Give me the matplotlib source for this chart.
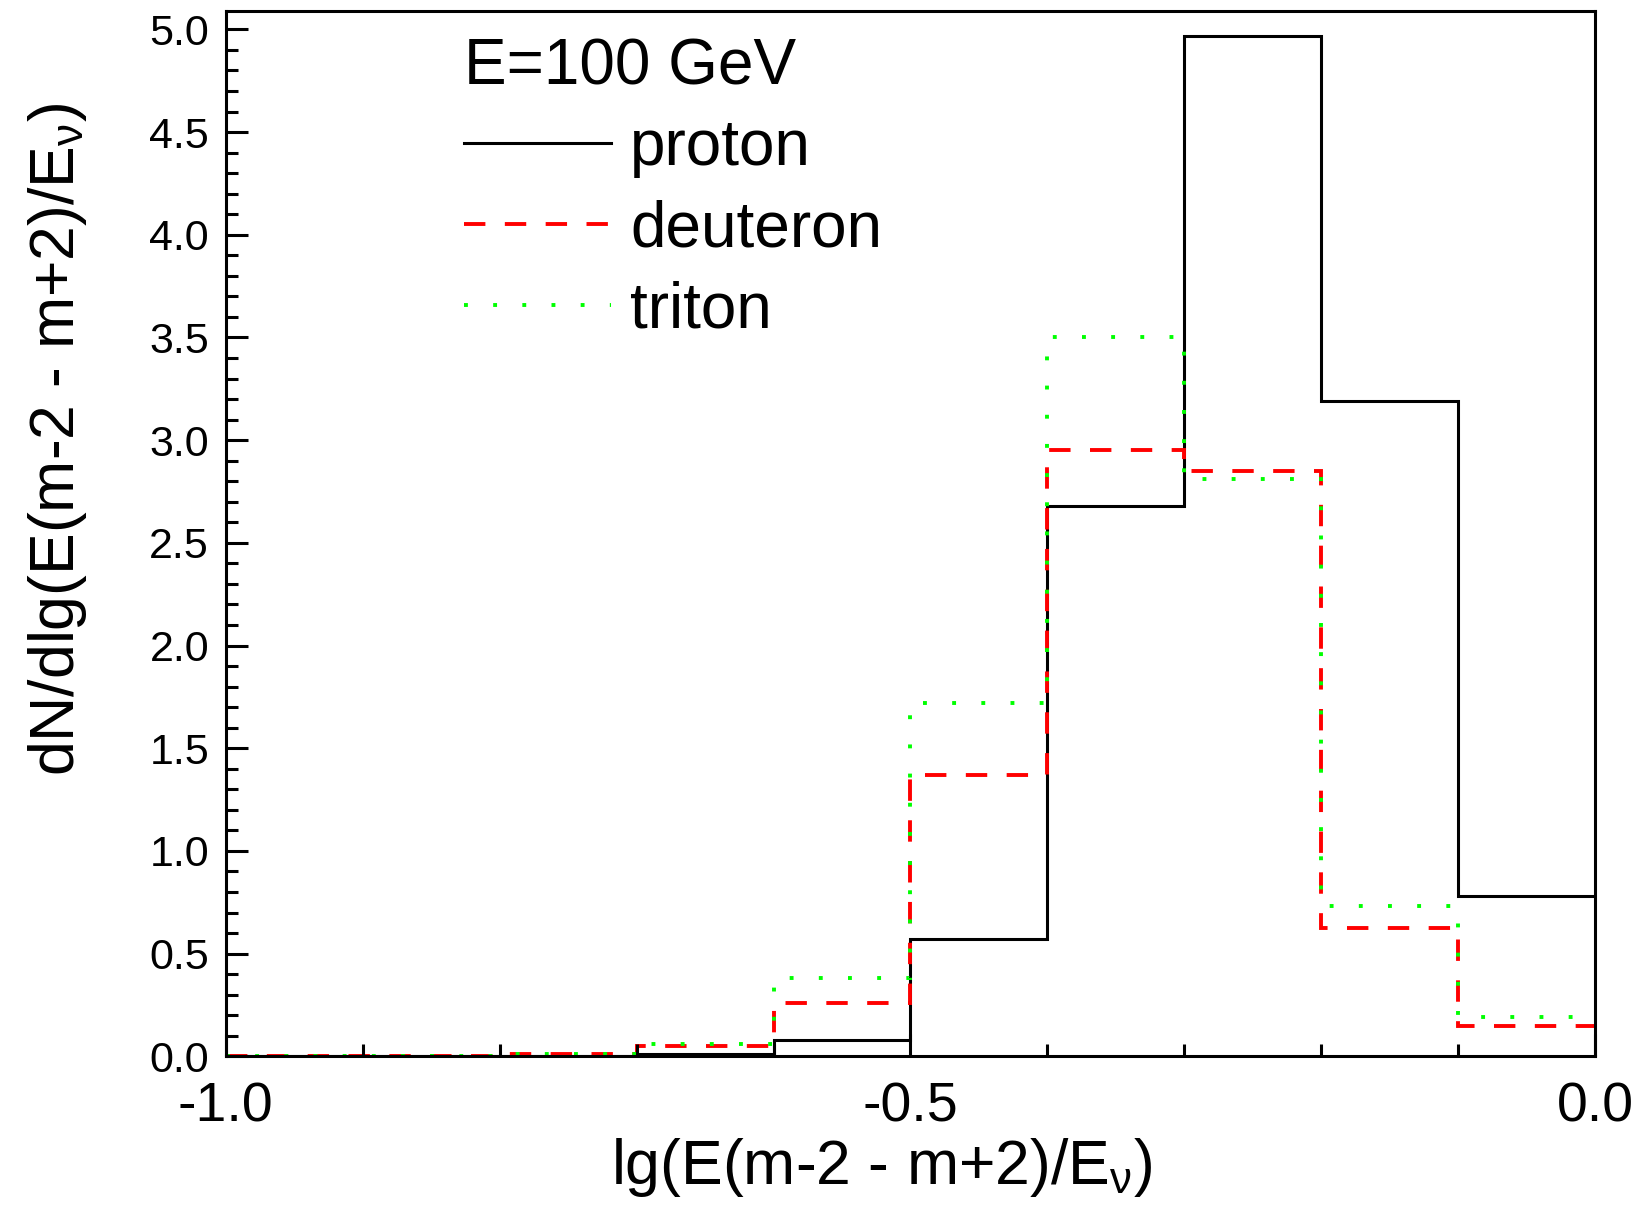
import numpy as np
import matplotlib
matplotlib.use("Agg")
from matplotlib import pyplot as plt
from matplotlib.ticker import MultipleLocator, FormatStrFormatter

plt.rcParams['font.family'] = ['Liberation Sans', 'DejaVu Sans']
plt.rcParams['mathtext.fontset'] = 'custom'
plt.rcParams['mathtext.rm'] = 'Liberation Sans'
plt.rcParams['mathtext.default'] = 'regular'
plt.rcParams['axes.unicode_minus'] = False

# bin edges of lg(E/E_nu)
edges = [-1.0, -0.9, -0.8, -0.7, -0.6, -0.5, -0.4, -0.3, -0.2, -0.1, 0.0]

proton = [0.0, 0.0, 0.0, 0.01, 0.08, 0.57, 2.68, 4.97, 3.19, 0.78]
deuteron = [0.003, 0.003, 0.01, 0.05, 0.26, 1.37, 2.95, 2.85, 0.625, 0.15]
triton = [0.004, 0.004, 0.01, 0.06, 0.38, 1.72, 3.50, 2.81, 0.73, 0.19]

fig = plt.figure(figsize=(16.36, 12.10), dpi=100)
ax = fig.add_axes([0.138, 0.127, 0.837, 0.864])

ax.stairs(proton, edges, baseline=None, color='black', lw=2.2, label='proton')
ax.stairs(deuteron, edges, baseline=None, color='#ff0000', lw=2.8,
          linestyle=(0, (5.5, 5.0)), label='deuteron')
ax.stairs(triton, edges, baseline=None, color='#00ff00', lw=2.8,
          linestyle=(0, (1.0, 6.5)), label='triton')

ax.set_xlim(-1.0, 0.0)
ax.set_ylim(0, 5.09)

ax.xaxis.set_major_locator(MultipleLocator(0.5))
ax.xaxis.set_minor_locator(MultipleLocator(0.1))
ax.yaxis.set_major_locator(MultipleLocator(0.5))
ax.yaxis.set_minor_locator(MultipleLocator(0.1))
ax.xaxis.set_major_formatter(FormatStrFormatter('%.1f'))
ax.yaxis.set_major_formatter(FormatStrFormatter('%.1f'))

ax.tick_params(which='both', direction='in', top=False, right=False, width=2.2)
ax.tick_params(which='major', length=16)
ax.tick_params(which='minor', length=8.5)
ax.tick_params(axis='x', labelsize=40, pad=18)
ax.tick_params(axis='y', labelsize=31, pad=12)
for s in ax.spines.values():
    s.set_linewidth(2.2)

ax.set_xlabel(r'lg(E(m-2 - m+2)/E$_{\nu}$)', fontsize=45, va='top')
ax.xaxis.set_label_coords(0.479, -0.076)
ax.set_ylabel(r'dN/dlg(E(m-2 - m+2)/E$_{\nu}$)', fontsize=45)
ax.yaxis.set_label_coords(-0.100, 0.59)

leg = ax.legend(loc='upper left', bbox_to_anchor=(0.174, 0.975), frameon=False,
                title='E=100 GeV', title_fontsize=46, fontsize=46,
                handlelength=2.3, handletextpad=0.3, labelspacing=0.33,
                borderpad=0, borderaxespad=0, alignment='left')

fig.savefig('out.png', dpi=100)
